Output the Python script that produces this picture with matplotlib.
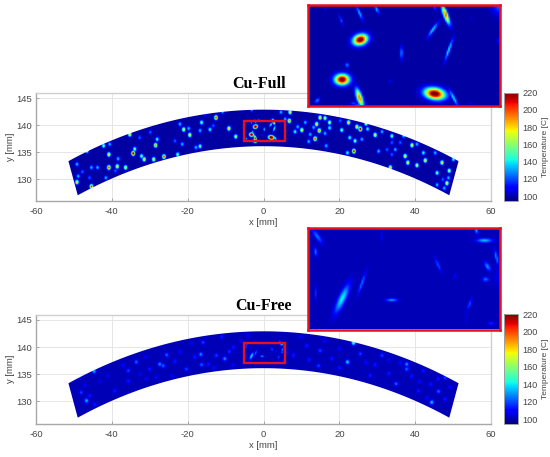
import numpy as np
import matplotlib
matplotlib.use("Agg")
import matplotlib.pyplot as plt
from matplotlib.patches import Rectangle, Polygon

plt.rcParams['font.family'] = ['Liberation Sans', 'DejaVu Sans']
plt.rcParams['axes.unicode_minus'] = False

xticks = [-60, -40, -20, 0, 20, 40, 60]
yticks = [130, 135, 140, 145]
cticks = [100, 120, 140, 160, 180, 200, 220]
titles = ['Cu-Full', 'Cu-Free']
box_x = (-5.05, 5.7)
box_y = (137.1, 140.8)
r_in, r_out, half_angle = 136.1, 142.9, 21.1

# Cu-Full hot spots away from the red box: x, y, peak temperature
full_x = [-12.5,-16.3,-9.1,-7.3,-14.1,-16.7,-19.4,-21.0,-22.0,-19.7,-16.7,-17.8,-21.4,-22.6,-23.3,-28.4,-28.0,
          -26.2,-28.9,-31.4,-32.1,-34.3,-33.9,-35.2,-38.3,-36.3,-38.5,-40.7,-40.7,-42.1,-46.5,-43.7,-45.3,-47.7,
          -49.1,-48.8,-49.1,-45.3,-45.8,-41.5,-39.0,-40.5,-29.8,-32.6,-10.8,-15.4,-13.2,-3.1,
          7.0,6.8,4.6,8.3,10.1,9.0,11.0,12.3,11.9,13.6,14.9,16.2,14.0,14.7,17.4,17.4,16.2,13.2,16.5,20.6,20.2,22.4,
          24.6,25.5,27.0,27.4,24.1,22.7,23.8,22.1,25.9,29.4,31.2,30.3,33.8,33.8,36.9,34.7,33.4,33.8,37.3,38.0,40.4,
          42.1,42.6,39.1,40.4,45.2,47.0,48.9,45.7,45.7,48.3,47.6,50.0,48.7,47.2,36.0,32.5,5.7]
full_y = [141.2,140.3,139.2,137.7,139.0,138.8,138.0,139.0,140.0,139.2,135.9,135.7,136.3,134.4,136.9,136.1,137.2,
          134.0,133.5,133.5,134.1,134.6,135.4,138.1,133.6,132.0,132.2,134.4,132.0,136.0,135.1,132.0,132.0,131.2,
          132.6,130.4,129.3,128.5,130.1,130.1,131.4,136.3,138.5,137.5,142.3,141.7,139.7,142.7,
          142.2,140.6,142.2,138.6,138.9,139.5,140.3,138.1,136.8,137.3,141.2,141.1,140.0,138.8,140.3,139.3,138.3,139.4,
          136.0,138.9,140.6,140.3,139.5,139.1,140.1,139.1,136.9,137.5,135.0,134.7,137.2,138.0,138.6,135.0,137.8,136.6,
          137.8,135.3,132.0,134.4,134.1,132.9,132.4,134.7,133.3,136.1,136.3,134.7,132.9,131.4,131.0,128.8,129.1,128.2,
          133.5,130.1,129.8,136.6,135.3,140.9]
full_t = [190,150,170,160,140,130,170,170,130,130,150,130,130,150,120,180,140,190,170,170,150,210,150,170,130,170,
          170,170,190,150,160,130,130,120,130,130,170,190,120,130,120,130,120,120,130,110,120,130,
          170,180,130,140,170,130,130,130,130,190,170,160,170,180,160,140,130,130,130,150,120,170,170,210,160,140,
          150,140,200,140,130,170,130,130,150,120,130,130,170,120,170,170,160,140,170,170,130,130,170,160,150,130,
          170,130,140,130,120,120,120,130]

# Cu-Full spots inside the red box: x, y, peak, long sigma, short sigma, tilt
full_box_x = [-2.12,-3.14,2.05,2.66,-2.16,-3.2,-1.2,1.95,2.84,0.19,-2.86,-2.16,3.1,-4.53,-0.45,4.1,5.6,2.05,-4.07,-2.5,4.0,-2.2]
full_box_y = [139.53,138.07,137.55,140.44,140.5,140.25,140.64,139.9,139.16,139.04,138.6,137.4,137.4,137.3,138.0,140.3,139.5,140.7,140.65,137.2,137.2,136.9]
full_box_t = [232,232,235,198,135,122,135,140,142,132,130,195,142,130,110,106,115,120,106,120,106,180]
full_box_a = [.27,.27,.38,.26,.2,.15,.12,.25,.3,.17,.07,.25,.25,.1,.06,.05,.06,.08,.06,.1,.06,.25]
full_box_b = [.13,.13,.14,.08,.05,.04,.05,.05,.05,.05,.06,.1,.05,.05,.05,.05,.05,.05,.05,.04,.04,.15]
full_box_d = [8,0,-5,-58,-55,-60,-50,43,61,90,0,-60,-50,30,0,0,90,-50,0,0,0,0]

# Cu-Free spots away from the red box
free_x = [-44.6,-46.6,-48,-48.4,-44.4,-45.8,-33.5,-35.6,-35.6,-39.2,-41,-27.3,-25.5,-26.4,-23.3,-30,-20.3,-16.5,
          -15.9,-16.3,-14.5,-12.4,-10.2,-11,-7.9,-18.1,-30.8,-32.6,-28.2,
          23.7,22.1,44.3,37.7,37.7,47.8,46.1,34.9,29.4,31.2,25.5,18,14.5,14.9,11.4,7.9,9.7,42.1,47.8,28.1,40.8,
          -47,-43,-37,-31,-24,-22,-19,-13,-9,-8,-6,-4,
          6,12,16,20,20,27,33,36,39,41,44,43,49,46,33,26]
free_y = [135.4,130,131.5,134.3,129.3,130.9,137.1,135.5,133.6,131.8,134.6,136.7,138.4,136.4,137.2,135.8,135.8,138.5,
          140.7,136.6,136.7,138.3,137.7,141.7,139.8,138,134,134.9,134.3,
          140.6,137.1,129.7,136.7,135.8,134.2,131.7,133.1,136.6,138.3,138.6,137.7,136.4,139.2,140.1,138.3,141.7,135.5,130.3,134.6,131.8,
          132.8,133.5,136.5,138,134.5,139,140.5,136,139,136.5,141,142,
          139,137.5,141,139.5,136,137,135,137,134.5,133.5,133,130.5,132.5,134,137.5,141]
free_t = [135,135,120,115,115,115,125,120,115,115,110,130,125,125,115,115,120,130,120,125,115,120,130,115,115,115,110,110,110,
          152,140,137,130,125,120,125,125,115,120,120,115,120,120,115,115,110,115,115,115,115,
          110,108,112,110,112,112,110,112,118,112,110,108,
          112,115,110,112,115,112,115,112,115,112,115,112,112,115,110,110]

# Cu-Free spots inside the red box
free_box_x = [-3.14,-2.03,-0.36,-4.62,-4.53,-4.62,2.23,3.16,4.36,4.83,5.5,5.0,4.9,4.0,3.8,5.2,-0.92]
free_box_y = [138.2,138.76,138.15,139.9,140.46,138.4,139.43,139.0,140.7,140.31,139.7,139.37,138.9,138.0,137.55,137.3,140.5]
free_box_t = [142,126,132,126,126,116,122,112,135,136,130,130,126,122,112,116,110]
free_box_a = [.42,.3,.22,.12,.25,.2,.2,.1,.12,.3,.2,.15,.12,.15,.2,.12,.15]
free_box_b = [.12,.05,.04,.06,.07,.04,.05,.04,.05,.05,.05,.07,.06,.05,.03,.05,.04]
free_box_d = [53,61,0,-70,-40,85,-55,60,-60,0,-70,-40,0,60,90,0,90]

base_levels = [99.0, 101.0]
# --------------------------------------------------------------------------


def field(xlim, ylim, dx, dy, data, grow=0.0, gain=1.0):
    xs, ys, ts, bx, by, bt, ba, bb, bd, base, sig_x, sig_y = data
    xc = np.arange(xlim[0], xlim[1] + dx, dx)
    yc = np.arange(ylim[0], ylim[1] + dy, dy)
    X, Y = np.meshgrid(xc, yc)
    Z = np.full(X.shape, base)
    for x, y, t in zip(xs, ys, ts):
        Z = np.maximum(Z, base + gain * (t - base) * np.exp(-.5 * (((X - x) / sig_x) ** 2 + ((Y - y) / sig_y) ** 2)))
    for x, y, t, a, b, d in zip(bx, by, bt, ba, bb, bd):
        c, s = np.cos(np.radians(d)), np.sin(np.radians(d))
        u = (X - x) * c + (Y - y) * s
        v = -(X - x) * s + (Y - y) * c
        Z = np.maximum(Z, base + gain * (t - base) * np.exp(-.5 * ((u / (a + grow)) ** 2 + (v / (b + grow)) ** 2)))
    return Z, [xc[0] - dx / 2, xc[-1] + dx / 2, yc[0] - dy / 2, yc[-1] + dy / 2]


W, H = 550, 457
fig = plt.figure(figsize=(W / 100, H / 100), dpi=100, facecolor='white')


def px_axes(x0, y0, x1, y1, **kw):
    return fig.add_axes([x0 / W, 1 - y1 / H, (x1 - x0) / W, (y1 - y0) / H], **kw)


panels = [
    dict(top=93, bot=200.5, ytop=146.0, ybot=126.0, inset=(5, 106), title_x=259, title_y=84, xl_y=222.5, gain=1.25, sig=(.3, .27),
         data=(full_x, full_y, full_t, full_box_x, full_box_y, full_box_t, full_box_a, full_box_b, full_box_d, base_levels[0])),
    dict(top=314.5, bot=423.5, ytop=146.0, ybot=125.9, inset=(228, 329.5), title_x=264, title_y=306, xl_y=445, gain=1.0, sig=(.36, .28),
         data=(free_x, free_y, free_t, free_box_x, free_box_y, free_box_t, free_box_a, free_box_b, free_box_d, base_levels[1])),
]
GRAY = '#454545'
ang = np.radians(np.linspace(-half_angle, half_angle, 200))
sector = np.column_stack([np.r_[r_out * np.sin(ang), r_in * np.sin(ang[::-1])],
                          np.r_[r_out * np.cos(ang), r_in * np.cos(ang[::-1])]])
for p, title in zip(panels, titles):
    data = p['data'] + p['sig']
    Z, ext = field((-53, 53), (125, 144), 0.1, 0.05, data, grow=0.1, gain=p['gain'])
    ax = px_axes(36, p['top'], 491, p['bot'])
    m = ax.imshow(Z, origin='lower', extent=ext, aspect='auto', cmap='jet', vmin=95, vmax=220,
                  interpolation='antialiased', interpolation_stage='rgba', zorder=2)
    clip = Polygon(sector, closed=True, transform=ax.transData, fill=False, ec='none')
    ax.add_patch(clip)
    m.set_clip_path(clip)
    ax.set_xlim(-60, 60)
    ax.set_ylim(p['ybot'], p['ytop'])
    ax.set_xticks(xticks)
    ax.set_yticks(yticks)
    ax.grid(True, color='#e6e6e6', lw=0.7)
    ax.set_axisbelow(True)
    ax.tick_params(labelcolor=GRAY, labelsize=6.8, length=2, width=0.6, direction='in', color='#999999')
    ax.tick_params(axis='x', pad=4.5)
    ax.tick_params(axis='y', pad=2.5)
    for s in ax.spines.values():
        s.set_color('#a8a8a8')
        s.set_linewidth(1.0)
    ax.spines['top'].set_color('#cfcfcf')
    ax.spines['right'].set_color('#cfcfcf')
    ax.add_patch(Rectangle((box_x[0], box_y[0]), box_x[1] - box_x[0], box_y[1] - box_y[0],
                           fill=False, ec='#e8101c', lw=1.7, zorder=5))
    fig.text(p['title_x'] / W, 1 - p['title_y'] / H, title, family=['Liberation Serif'], weight='bold', fontsize=11.5,
             ha='center', va='center', color='black')
    fig.text(263 / W, 1 - p['xl_y'] / H, 'x [mm]', fontsize=6.8, color=GRAY, ha='center', va='center')
    fig.text(10.5 / W, 1 - (p['top'] + p['bot']) / 2 / H, 'y [mm]', fontsize=6.8, color=GRAY, rotation=90,
             ha='center', va='center')

    ins = px_axes(308, p['inset'][0], 500, p['inset'][1], zorder=6)
    Zi, exti = field((box_x[0] - .2, box_x[1] + .2), (box_y[0] - .1, box_y[1] + .1), 0.09, 0.05, data)
    ins.imshow(Zi, origin='lower', extent=exti, aspect='auto', cmap='jet', vmin=95, vmax=220, interpolation='bilinear')
    ins.set_xlim(*box_x)
    ins.set_ylim(*box_y)
    ins.set_xticks([])
    ins.set_yticks([])
    for s in ins.spines.values():
        s.set_color('#e8101c')
        s.set_linewidth(1.8)

    cax = px_axes(503.5, p['top'] - 0.5, 518, p['bot'])
    cb = fig.colorbar(m, cax=cax, ticks=cticks)
    cb.outline.set_edgecolor('#a0a0a0')
    cb.outline.set_linewidth(0.7)
    cax.tick_params(length=0, labelsize=6.6, labelcolor=GRAY, pad=3)
    cb.set_label('Temperature [C]', fontsize=6.0, color=GRAY, labelpad=3)

fig.savefig('out.png', dpi=100)
